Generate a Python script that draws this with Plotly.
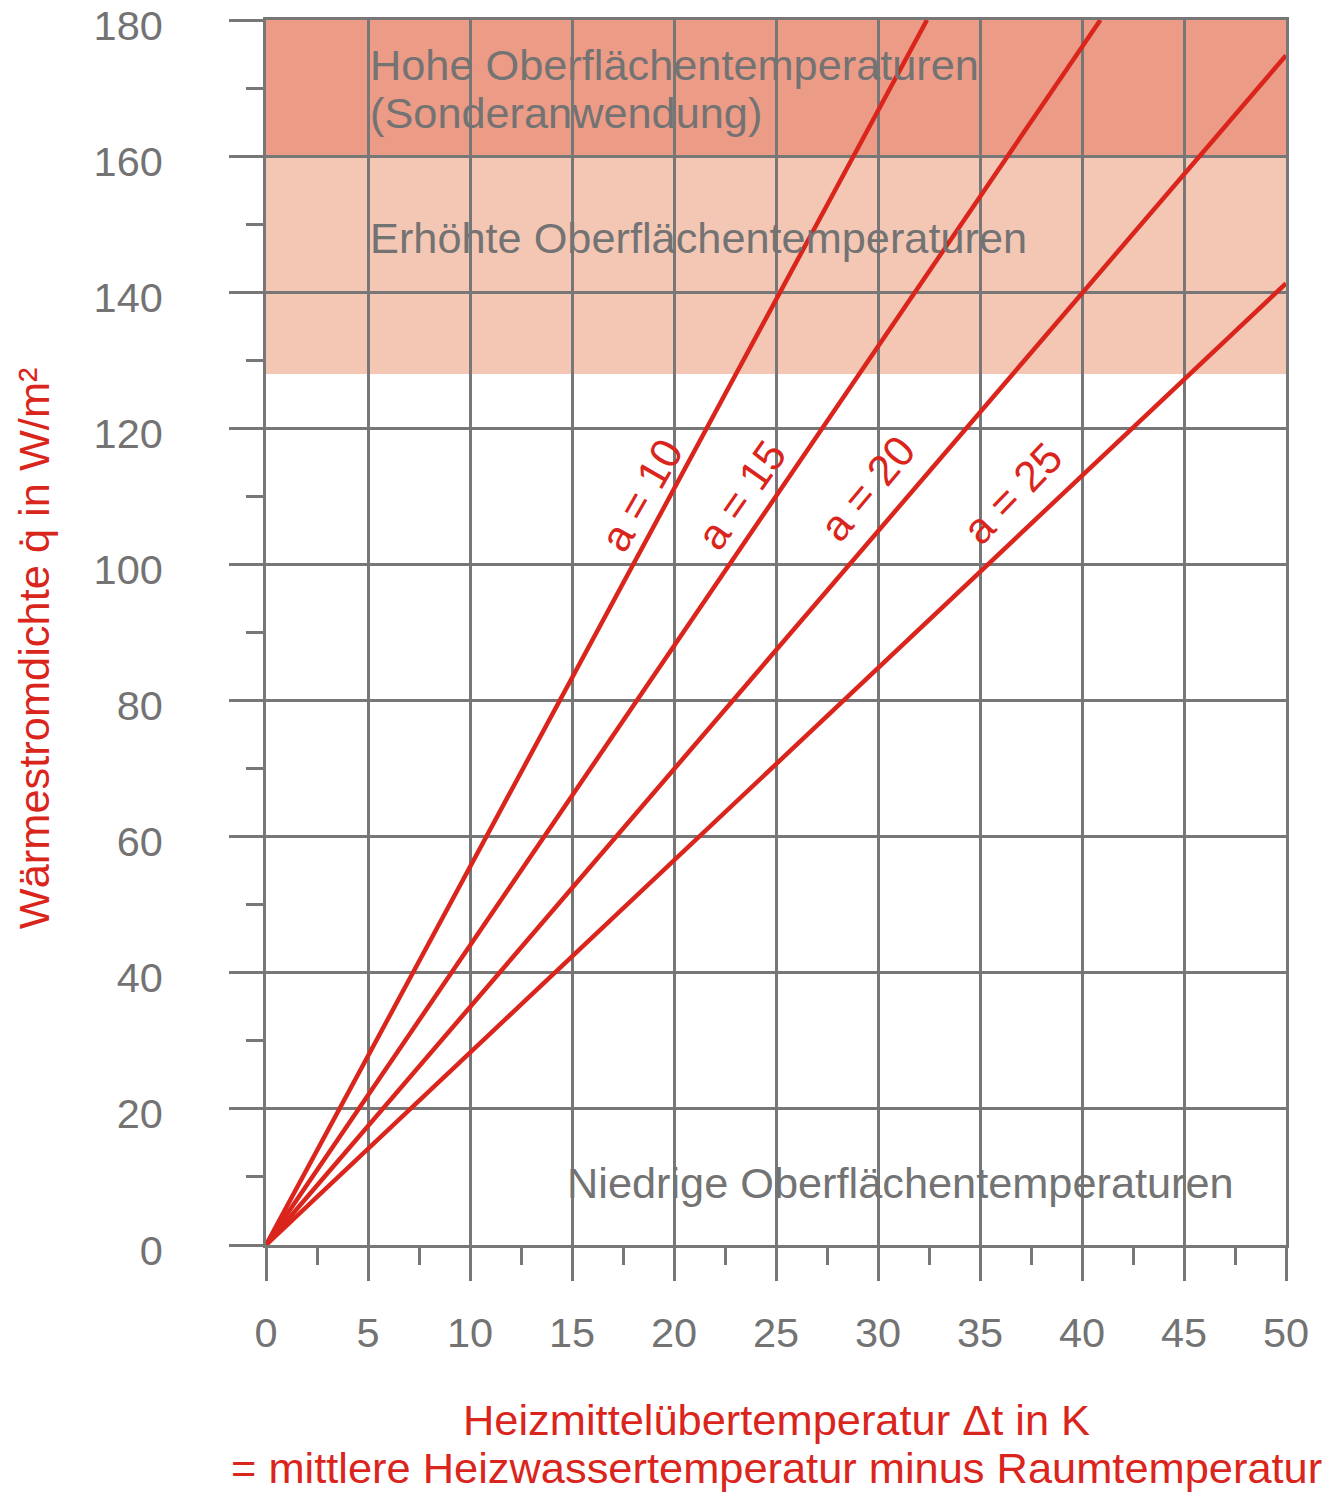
import plotly.graph_objects as go

# --- data ---
a_labels = ["a = 10", "a = 15", "a = 20", "a = 25"]
line_dt_start = [0, 0, 0, 0]
line_q_start = [0, 0, 0, 0]
line_dt_end = [32.4, 40.9, 50.0, 50.0]
line_q_end = [180.0, 180.0, 174.8, 141.3]

label_dt = [18.4, 23.3, 29.5, 36.6]
label_q = [110.2, 110.2, 111.2, 110.5]
label_angle = [-60, -55, -50, -46]

band_q_low = [128, 160]
band_q_high = [160, 180]
band_colors = ["#F4C7B5", "#EC9C86"]

x_ticks = [0, 5, 10, 15, 20, 25, 30, 35, 40, 45, 50]
y_ticks = [0, 20, 40, 60, 80, 100, 120, 140, 160, 180]

region_texts = ["Hohe Oberflächentemperaturen", "(Sonderanwendung)",
                "Erhöhte Oberflächentemperaturen", "Niedrige Oberflächentemperaturen"]
region_dt = [5, 5, 5, 14.65]
region_q = [173.4, 166.3, 148.0, 9.1]

x_title_lines = ["Heizmittelübertemperatur Δt in K",
                 "= mittlere Heizwassertemperatur minus Raumtemperatur"]
y_title = "Wärmestromdichte q̇ in W/m²"

RED = "#DA251D"
GRID = "#777777"
TXT = "#737373"
FONT = "Liberation Sans, Arial, sans-serif"

fig = go.Figure()

for lo, hi, c in zip(band_q_low, band_q_high, band_colors):
    fig.add_shape(type="rect", xref="x", yref="y", x0=x_ticks[0], x1=x_ticks[-1],
                  y0=lo, y1=hi, fillcolor=c, line_width=0, layer="below")

for i in range(len(a_labels)):
    fig.add_trace(go.Scatter(x=[line_dt_start[i], line_dt_end[i]],
                             y=[line_q_start[i], line_q_end[i]],
                             mode="lines", line=dict(color=RED, width=4.5),
                             showlegend=False, hoverinfo="skip"))
    fig.add_annotation(x=label_dt[i], y=label_q[i], text=a_labels[i], showarrow=False,
                       textangle=label_angle[i], xanchor="center", yanchor="middle",
                       font=dict(family=FONT, size=43, color=RED))

for t, x, y in zip(region_texts, region_dt, region_q):
    fig.add_annotation(x=x, y=y, text=t, showarrow=False, xanchor="left", yanchor="middle",
                       font=dict(family=FONT, size=43.3, color=TXT))

fig.add_annotation(xref="paper", yref="paper", x=0.5, y=-0.143, text=x_title_lines[0],
                   showarrow=False, xanchor="center", yanchor="middle",
                   font=dict(family=FONT, size=43.4, color=RED))
fig.add_annotation(xref="paper", yref="paper", x=0.5, y=-0.182, text=x_title_lines[1],
                   showarrow=False, xanchor="center", yanchor="middle",
                   font=dict(family=FONT, size=43.4, color=RED))
fig.add_annotation(xref="paper", yref="paper", x=-0.228, y=0.4875, text=y_title,
                   showarrow=False, textangle=-90, xanchor="center", yanchor="middle",
                   font=dict(family=FONT, size=43.4, color=RED))

axis_common = dict(showgrid=True, gridcolor=GRID, gridwidth=2.8, zeroline=False,
                   showline=True, linecolor=GRID, linewidth=2.8, mirror=True,
                   ticks="outside", tickcolor=GRID, tickwidth=2.8,
                   ticklabeloverflow="allow", automargin=False,
                   tickfont=dict(family=FONT, size=41.5, color=TXT))

fig.update_xaxes(range=[0, 50], tickvals=x_ticks, ticklen=33, ticklabelstandoff=16,
                 minor=dict(ticks="outside", dtick=2.5, ticklen=17, tickcolor=GRID,
                            tickwidth=2.8, showgrid=False),
                 **axis_common)
fig.update_yaxes(range=[0, 180], tickvals=y_ticks, ticklen=34, ticklabelstandoff=58,
                 ticklabelshift=5,
                 minor=dict(ticks="outside", dtick=10, ticklen=17, tickcolor=GRID,
                            tickwidth=2.8, showgrid=False),
                 **axis_common)

fig.update_layout(width=1339, height=1492,
                  margin=dict(l=258, r=61, t=12, b=255),
                  plot_bgcolor="white", paper_bgcolor="white",
                  font=dict(family=FONT))

fig.write_html("out.html")
